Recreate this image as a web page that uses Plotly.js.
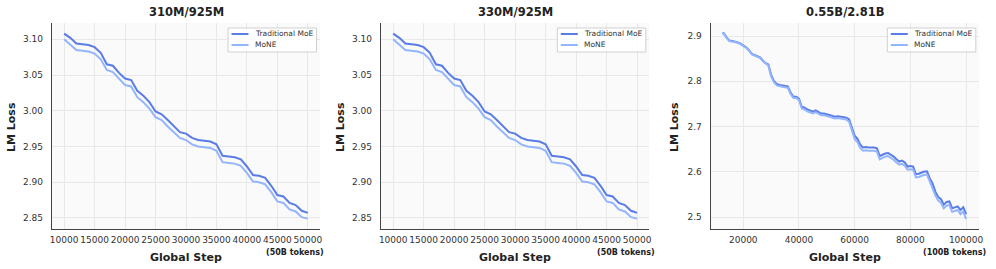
<!DOCTYPE html>
<html>
<head>
<meta charset="utf-8">
<script src="https://cdn.plot.ly/plotly-3.0.1.min.js"></script>
<style>html,body{margin:0;padding:0;background:#fff;}#chart{width:996px;height:269px;}</style>
</head>
<body>
<div id="chart"></div>
<script>
// ---------- data ----------
const panelTitles = ["310M/925M", "330M/925M", "0.55B/2.81B"];
const tokenNotes = ["(50B tokens)", "(50B tokens)", "(100B tokens)"];
const seriesNames = ["Traditional MoE", "MoNE"];

const steps50k = [10000,11000,12000,13000,14000,15000,16000,17000,18000,19000,20000,21000,22000,23000,24000,25000,26000,27000,28000,29000,30000,31000,32000,33000,34000,35000,36000,37000,38000,39000,40000,41000,42000,43000,44000,45000,46000,47000,48000,49000,50000];

const trad310 = [3.108,3.102,3.094,3.093,3.092,3.089,3.081,3.065,3.063,3.053,3.045,3.043,3.028,3.021,3.012,2.999,2.995,2.987,2.979,2.970,2.968,2.962,2.959,2.958,2.957,2.953,2.937,2.936,2.935,2.932,2.922,2.910,2.909,2.906,2.895,2.882,2.880,2.871,2.868,2.860,2.857];
const mone310 = [3.100,3.093,3.085,3.084,3.083,3.080,3.072,3.057,3.054,3.045,3.036,3.034,3.019,3.012,3.003,2.991,2.987,2.978,2.970,2.962,2.959,2.953,2.950,2.949,2.948,2.944,2.928,2.927,2.926,2.923,2.913,2.901,2.900,2.897,2.886,2.873,2.871,2.862,2.859,2.851,2.849];

const trad330 = [3.108,3.102,3.094,3.093,3.092,3.089,3.081,3.065,3.063,3.053,3.045,3.043,3.028,3.021,3.012,2.999,2.995,2.987,2.979,2.970,2.968,2.962,2.959,2.958,2.957,2.953,2.937,2.936,2.935,2.932,2.922,2.910,2.909,2.906,2.895,2.882,2.880,2.871,2.868,2.860,2.857];
const mone330 = [3.100,3.093,3.085,3.084,3.083,3.080,3.072,3.057,3.054,3.045,3.036,3.034,3.019,3.012,3.003,2.991,2.987,2.978,2.970,2.962,2.959,2.953,2.950,2.949,2.948,2.944,2.928,2.927,2.926,2.923,2.913,2.901,2.900,2.897,2.886,2.873,2.871,2.862,2.859,2.851,2.849];

const steps100k = [12500,13000,14000,15000,16000,17000,18000,19000,20000,21000,22000,23000,24000,25000,26000,27000,28000,29000,30000,31000,32000,33000,34000,35000,36000,37000,38000,39000,40000,41000,42000,43000,44000,45000,46000,47000,48000,49000,50000,51000,52000,53000,54000,55000,56000,57000,58000,59000,60000,61000,62000,63000,64000,65000,66000,67000,68000,69000,70000,71000,72000,73000,74000,75000,76000,77000,78000,79000,80000,81000,82000,83000,84000,85000,86000,87000,88000,89000,90000,91000,92000,93000,94000,95000,96000,97000,98000,99000,100000];

const trad055 = [2.906,2.906,2.897,2.890,2.889,2.888,2.886,2.883,2.879,2.875,2.869,2.861,2.858,2.855,2.853,2.846,2.840,2.837,
  2.814,2.801,2.794,2.792,2.791,2.790,2.789,2.775,2.766,2.766,2.762,
  2.744,2.742,2.738,2.736,2.733,2.736,2.733,2.729,2.729,2.727,2.725,2.724,2.722,2.723,2.722,2.722,2.720,
  2.716,2.698,2.680,2.673,2.660,2.654,2.655,2.654,2.654,2.654,2.652,2.635,2.638,2.641,2.642,2.638,2.634,2.628,2.623,2.625,2.621,2.612,2.613,2.612,2.595,2.596,2.598,2.601,2.601,2.585,2.574,2.556,2.545,2.540,2.528,2.534,2.535,2.520,2.522,2.524,2.516,2.522,2.507];
const mone055 = [2.905,2.905,2.896,2.889,2.888,2.887,2.885,2.882,2.878,2.874,2.868,2.860,2.857,2.854,2.852,2.845,2.839,2.835,
  2.811,2.798,2.791,2.789,2.788,2.787,2.786,2.772,2.763,2.763,2.759,
  2.740,2.738,2.734,2.732,2.729,2.732,2.729,2.725,2.725,2.723,2.721,2.720,2.718,2.719,2.718,2.718,2.716,
  2.711,2.692,2.673,2.666,2.653,2.647,2.648,2.647,2.647,2.647,2.645,2.628,2.631,2.634,2.635,2.631,2.627,2.621,2.616,2.618,2.614,2.605,2.606,2.605,2.588,2.589,2.591,2.594,2.594,2.578,2.566,2.548,2.537,2.532,2.520,2.526,2.527,2.512,2.514,2.516,2.507,2.513,2.496];

const xTicks50k = [10000,15000,20000,25000,30000,35000,40000,45000,50000];
const xTicks100k = [20000,40000,60000,80000,100000];
const yTicks310 = [2.85,2.90,2.95,3.00,3.05,3.10];
const yTicks055 = [2.5,2.6,2.7,2.8,2.9];

// ---------- styling / layout ----------
const W = 996, H = 269;
const seriesColors = ["#5a7ce6", "#92b5fd"];
const FONT = "DejaVu Sans";
const plotTop = 23, plotBot = 229;
const panels = [
  {x: steps50k, ys: [trad310, mone310], left: 52, right: 320, xr: [8000, 52000], yr: [2.8345, 3.1228], xt: xTicks50k, yt: yTicks310, yfmt: ".2f", ylab: 12, note: 295},
  {x: steps50k, ys: [trad330, mone330], left: 381, right: 649.3, xr: [8000, 52000], yr: [2.8345, 3.1228], xt: xTicks50k, yt: yTicks310, yfmt: ".2f", ylab: 341, note: 626},
  {x: steps100k, ys: [trad055, mone055], left: 710.7, right: 979.3, xr: [8300, 104750], yr: [2.4742, 2.9287], xt: xTicks100k, yt: yTicks055, yfmt: ".1f", ylab: 675, note: 954}
];

const data = [];
const layout = {
  width: W, height: H,
  margin: {l: 0, r: 0, t: 0, b: 0},
  paper_bgcolor: "#ffffff",
  plot_bgcolor: "#fafafa",
  font: {family: FONT, size: 9, color: "#333333"},
  showlegend: false,
  annotations: [],
  shapes: []
};
const px = v => v / W, py = v => (H - v) / H;

panels.forEach((p, i) => {
  const n = i === 0 ? "" : String(i + 1);
  const xa = "x" + n, ya = "y" + n;
  p.ys.forEach((yv, k) => {
    data.push({x: p.x, y: yv, xaxis: xa, yaxis: ya, type: "scatter", mode: "lines",
      name: seriesNames[k], line: {color: seriesColors[k], width: 2}});
  });

  layout["xaxis" + n] = {
    domain: [px(p.left), px(p.right)], anchor: ya, range: p.xr, autorange: false,
    tickmode: "array", tickvals: p.xt, ticktext: p.xt.map(v => String(v)), tickangle: 0,
    ticks: "", showline: true, linecolor: "#444444", linewidth: 1.3, mirror: false,
    showgrid: true, gridcolor: "#e8e8e8", gridwidth: 0.8, zeroline: false,
    tickfont: {family: FONT, size: 9, color: "#333"}, automargin: false, ticklabelstandoff: 2
  };
  layout["yaxis" + n] = {
    domain: [py(plotBot), py(plotTop)], anchor: xa, range: p.yr, autorange: false,
    tickmode: "array", tickvals: p.yt, tickformat: p.yfmt,
    ticks: "", showline: true, linecolor: "#444444", linewidth: 1.3, mirror: false,
    showgrid: true, gridcolor: "#e8e8e8", gridwidth: 0.8, zeroline: false,
    tickfont: {family: FONT, size: 9, color: "#333"}, automargin: false, ticklabelstandoff: 6
  };

  // legend box (drawn in paper coordinates)
  const r = p.right;
  layout.shapes.push({type: "rect", xref: "paper", yref: "paper",
    x0: px(r - 92), x1: px(r - 3.5), y0: py(52), y1: py(28),
    fillcolor: "rgba(255,255,255,0.85)", line: {color: "#d0d0d0", width: 1}});
  seriesNames.forEach((nm, k) => {
    const yc = 34 + k * 11;
    layout.shapes.push({type: "line", xref: "paper", yref: "paper",
      x0: px(r - 88.5), x1: px(r - 71.5), y0: py(yc), y1: py(yc),
      line: {color: seriesColors[k], width: 2}});
    layout.annotations.push({text: nm, xref: "paper", yref: "paper", x: px(r - 67), y: py(yc),
      xanchor: "left", yanchor: "middle", showarrow: false,
      font: {family: FONT, size: 7.5, color: "#333"}});
  });

  const cx = px((p.left + p.right) / 2);
  layout.annotations.push(
    {text: "<b>" + panelTitles[i] + "</b>", xref: "paper", yref: "paper", x: cx, y: py(12),
     xanchor: "center", yanchor: "middle", showarrow: false, font: {family: FONT, size: 11.5, color: "#222"}},
    {text: "<b>Global Step</b>", xref: "paper", yref: "paper", x: cx, y: py(257),
     xanchor: "center", yanchor: "middle", showarrow: false, font: {family: FONT, size: 11, color: "#222"}},
    {text: "<b>LM Loss</b>", xref: "paper", yref: "paper", x: px(p.ylab), y: py(127), textangle: -90,
     xanchor: "center", yanchor: "middle", showarrow: false, font: {family: FONT, size: 11, color: "#222"}},
    {text: "<b>" + tokenNotes[i] + "</b>", xref: "paper", yref: "paper", x: px(p.note), y: py(252),
     xanchor: "center", yanchor: "middle", showarrow: false, font: {family: FONT, size: 8, color: "#222"}}
  );
});

Plotly.newPlot("chart", data, layout, {displayModeBar: false, responsive: false});
</script>
</body>
</html>
